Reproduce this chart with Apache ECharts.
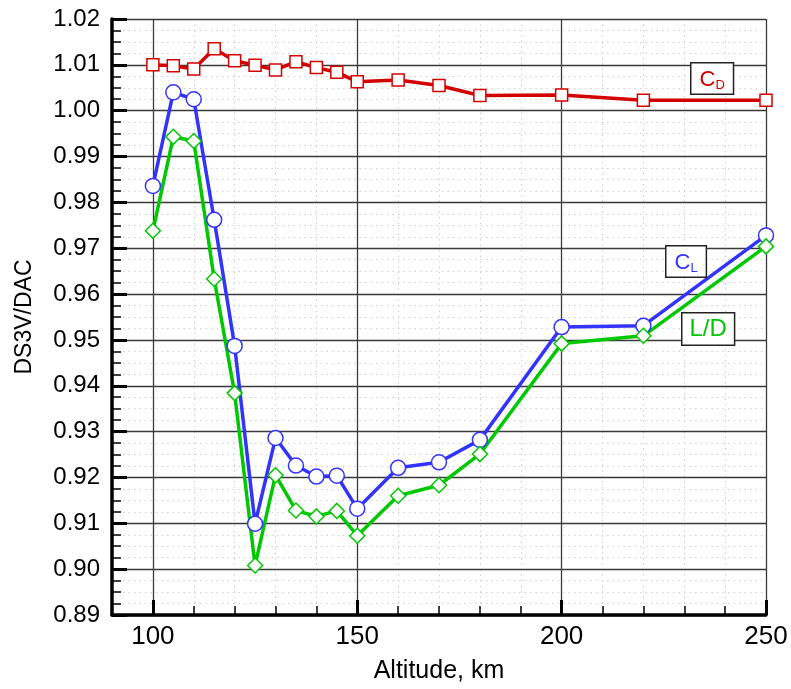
<!DOCTYPE html>
<html>
<head>
<meta charset="utf-8">
<script src="https://cdn.jsdelivr.net/npm/echarts@6/dist/echarts.min.js"></script>
<style>
  html, body { margin: 0; padding: 0; background: #ffffff; }
  #chart { width: 791px; height: 689px; }
</style>
</head>
<body>
<div id="chart"></div>
<script>
// Altitude (km) of each DS3V / DAC comparison run
const altitude = [100, 105, 110, 115, 120, 125, 130, 135, 140, 145, 150, 160, 170, 180, 200, 220, 250];

// Ratios of DS3V to DAC results
const dragRatio = [1.0100, 1.0098, 1.0091, 1.0135, 1.0109, 1.0099, 1.0089, 1.0107, 1.0094, 1.0084,
                   1.0063, 1.0067, 1.0055, 1.0033, 1.0034, 1.0023, 1.0023];
const liftRatio = [0.9836, 1.0040, 1.0025, 0.9762, 0.9487, 0.9099, 0.9286, 0.9226, 0.9202, 0.9204,
                   0.9132, 0.9221, 0.9233, 0.9282, 0.9528, 0.9531, 0.9728];
const ldRatio   = [0.9738, 0.9943, 0.9934, 0.9633, 0.9384, 0.9008, 0.9205, 0.9128, 0.9115, 0.9127,
                   0.9073, 0.9160, 0.9183, 0.9251, 0.9492, 0.9509, 0.9704];

// Axis ticks
const xMajorTicks = [100, 150, 200, 250];
const xRange = [90, 250];
const yRange = [0.89, 1.02];

const FONT = 'Arial, "Liberation Sans", Helvetica, sans-serif';
const RED = '#d40000', BLUE = '#3333ff', GREEN = '#00c800';

const pairs = (ys) => altitude.map((x, i) => [x, ys[i]]);

const chart = echarts.init(document.getElementById('chart'), null, { renderer: 'canvas' });

const lineSeries = (name, ys, color, symbol, size) => ({
  name: name,
  type: 'line',
  xAxisIndex: 0,
  data: pairs(ys),
  symbol: symbol,
  symbolSize: size,
  showAllSymbol: true,
  lineStyle: { color: color, width: 3.5 },
  itemStyle: { color: '#ffffff', borderColor: color, borderWidth: 1.5 },
  emphasis: { disabled: true },
  animation: false,
  z: 5
});

chart.setOption({
  animation: false,
  backgroundColor: '#ffffff',
  grid: { left: 112, right: 25, top: 19, bottom: 74, containLabel: false },
  xAxis: [
    {
      type: 'value',
      min: xRange[0], max: xRange[1],
      position: 'bottom',
      name: 'Altitude, km',
      nameLocation: 'middle',
      nameGap: 44,
      nameTextStyle: { fontFamily: FONT, fontSize: 25, color: '#000' },
      axisLine: { show: true, onZero: false, lineStyle: { color: '#000', width: 3.5 } },
      axisTick: { show: true, inside: true, length: 15, customValues: xMajorTicks,
                  lineStyle: { color: '#000', width: 3 } },
      axisLabel: { show: true, customValues: xMajorTicks, margin: 9,
                   fontFamily: FONT, fontSize: 26, color: '#000' },
      splitLine: { show: true, lineStyle: { color: '#3a3a3a', width: 1.3 } },
      z: 4
    },
    {
      type: 'value',
      min: xRange[0], max: xRange[1], interval: 10,
      position: 'bottom',
      axisLine: { show: false },
      axisTick: { show: true, inside: true, length: 9, lineStyle: { color: '#000', width: 1.5 } },
      axisLabel: { show: false },
      splitLine: { show: true, lineStyle: { color: '#cfcfcf', width: 1, type: [1.5, 4] } },
      z: 1
    }
  ],
  yAxis: {
    type: 'value',
    min: yRange[0], max: yRange[1], interval: 0.01,
    name: 'DS3V/DAC',
    nameLocation: 'middle',
    nameRotate: 90,
    nameGap: 76,
    nameTextStyle: { fontFamily: FONT, fontSize: 23, color: '#000' },
    axisLine: { show: true, onZero: false, lineStyle: { color: '#000', width: 3.5 } },
    axisTick: { show: true, inside: true, length: 15, lineStyle: { color: '#000', width: 3 } },
    minorTick: { show: true, splitNumber: 4, length: 9, lineStyle: { color: '#000', width: 1.5 } },
    axisLabel: { margin: 12, fontFamily: FONT, fontSize: 24, color: '#000',
                 formatter: (v) => v.toFixed(2) },
    splitLine: { show: true, lineStyle: { color: '#3a3a3a', width: 1.3 } },
    minorSplitLine: { show: true, lineStyle: { color: '#cfcfcf', width: 1, type: [1.5, 4] } },
    z: 4
  },
  series: [
    lineSeries('CD', dragRatio, RED, 'rect', 12),
    lineSeries('CL', liftRatio, BLUE, 'circle', 15),
    lineSeries('L/D', ldRatio, GREEN, 'diamond', 15)
  ],
  graphic: [
    {
      type: 'text', left: 690, top: 62, z: 20,
      style: {
        text: '{c|C}{s|D}',
        backgroundColor: '#fff', borderColor: '#222', borderWidth: 1.5,
        padding: [4, 8, 2, 8],
        rich: {
          c: { fontFamily: FONT, fontSize: 22, fill: RED, lineHeight: 24 },
          s: { fontFamily: FONT, fontSize: 13, fill: RED, lineHeight: 13, verticalAlign: 'bottom', padding: [8, 0, 0, 0] }
        }
      }
    },
    {
      type: 'text', left: 665, top: 245, z: 20,
      style: {
        text: '{c|C}{s|L}',
        backgroundColor: '#fff', borderColor: '#222', borderWidth: 1.5,
        padding: [4, 8, 2, 8],
        rich: {
          c: { fontFamily: FONT, fontSize: 22, fill: BLUE, lineHeight: 24 },
          s: { fontFamily: FONT, fontSize: 13, fill: BLUE, lineHeight: 13, verticalAlign: 'bottom', padding: [8, 0, 0, 0] }
        }
      }
    },
    {
      type: 'text', left: 681, top: 312, z: 20,
      style: {
        text: 'L/D',
        fontFamily: FONT, fontSize: 24, fill: GREEN,
        backgroundColor: '#fff', borderColor: '#222', borderWidth: 1.5,
        padding: [4, 7, 3, 7]
      }
    }
  ]
});
</script>
</body>
</html>
